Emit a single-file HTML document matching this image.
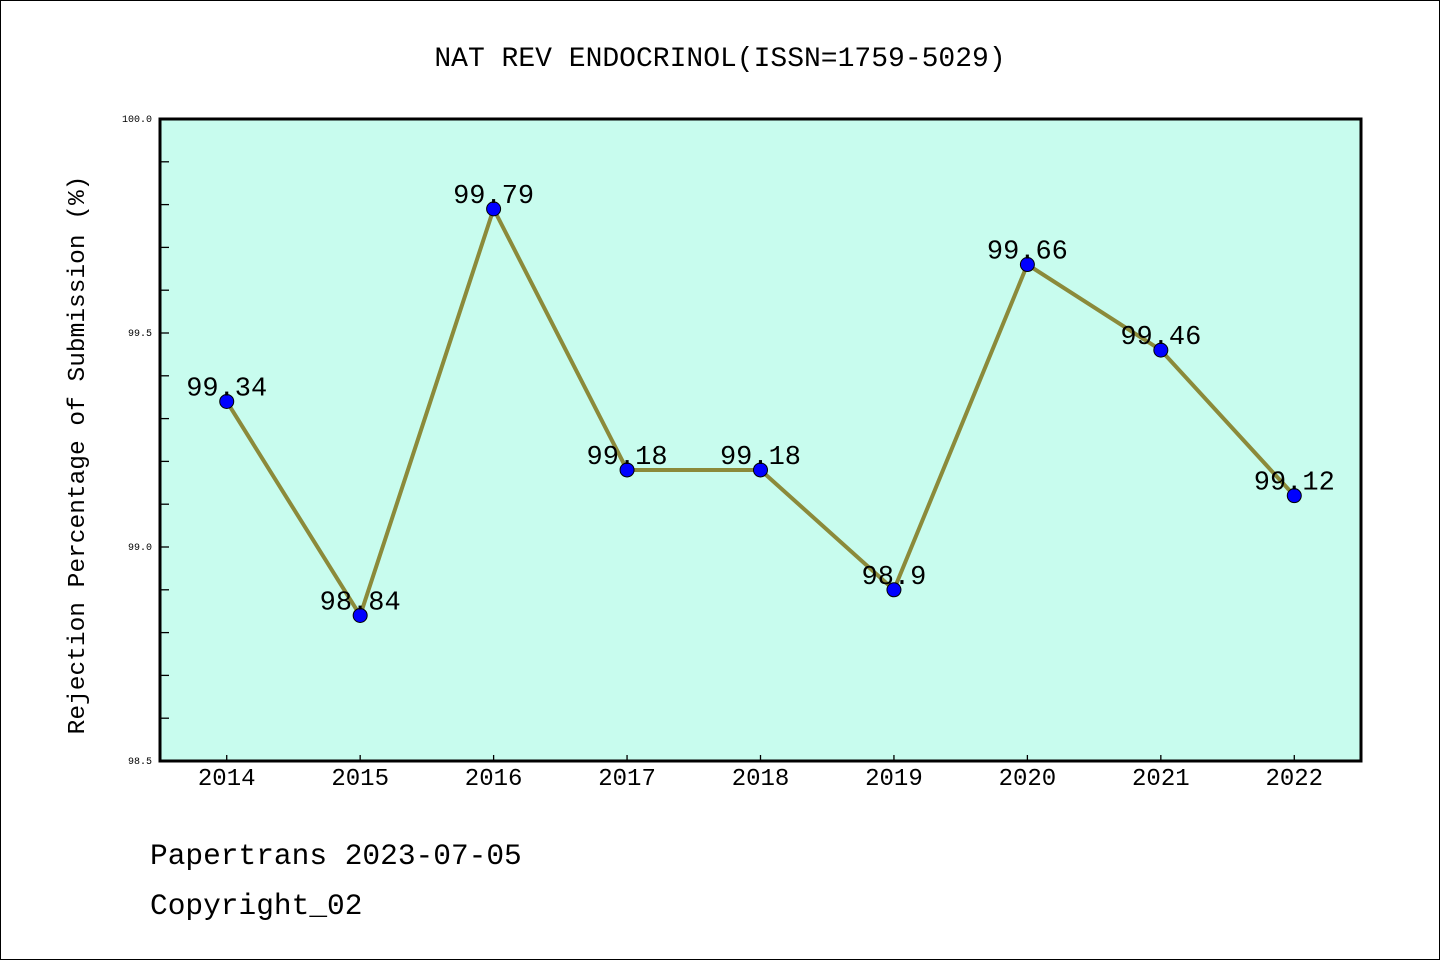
<!DOCTYPE html>
<html><head><meta charset="utf-8"><style>
html,body{margin:0;padding:0;background:#fff;}
svg{display:block;}
text{font-family:"Liberation Mono","WenQuanYi Zen Hei",monospace;}
</style></head><body>
<svg id="chart" width="1440" height="960" xmlns="http://www.w3.org/2000/svg">
<rect x="0.5" y="0.5" width="1439" height="959" fill="#fff" stroke="#000"/>
<text x="720" y="66" font-size="28" text-anchor="middle">NAT REV ENDOCRINOL(ISSN=1759-5029)</text>
<rect x="160" y="119" width="1201" height="642" fill="#c8fcee"/>
<g id="axes"></g>
<g id="series"></g>
<rect x="160" y="119" width="1201" height="642" fill="none" stroke="#000" stroke-width="3"/>
<text transform="translate(84,455) rotate(-90)" font-size="24.5" text-anchor="middle">Rejection Percentage of Submission (%)</text>
<text x="150" y="864" font-size="29.5">Papertrans 2023-07-05</text>
<text x="150" y="914" font-size="29.5">Copyright_02</text>
</svg>
<script>
const years=["2014","2015","2016","2017","2018","2019","2020","2021","2022"];
const values=[99.34,98.84,99.79,99.18,99.18,98.9,99.66,99.46,99.12];
const valueLabels=["99.34","98.84","99.79","99.18","99.18","98.9","99.66","99.46","99.12"];
const yTicks=[98.5,99.0,99.5,100.0];
const yTickLabels=["98.5","99.0","99.5","100.0"];
const yMin=98.5,yMax=100.0;
const L=160,R=1361,T=119,B=761;
const NS="http://www.w3.org/2000/svg";
function xs(i){return L+(i+0.5)*(R-L)/years.length;}
function ys(v){return B-(v-yMin)/(yMax-yMin)*(B-T);}
const ax=document.getElementById('axes'),se=document.getElementById('series');
function mk(tag,attrs,parent,txt){const e=document.createElementNS(NS,tag);for(const k in attrs)e.setAttribute(k,attrs[k]);if(txt!==undefined)e.textContent=txt;parent.appendChild(e);return e;}
for(let v=yMin+0.1;v<yMax-0.05;v+=0.1){
  const t=mk('line',{x1:L,x2:L+9,y1:ys(v),y2:ys(v),stroke:'#000','stroke-width':1.3},ax);
  
  
}
yTicks.forEach((v,i)=>{
  const t=mk('text',{x:L-8,y:ys(v)+3,'font-size':10,'text-anchor':'end','font-family':'Liberation Sans, sans-serif'},ax,yTickLabels[i]);
  
  
});
years.forEach((y,i)=>{
  const t=mk('line',{x1:xs(i),x2:xs(i),y1:B,y2:B-6,stroke:'#000','stroke-width':1.3},ax);
  
  
  const l=mk('text',{x:xs(i),y:B+24,'font-size':24,'text-anchor':'middle'},ax,y);
  
  
});
const line=mk('polyline',{points:values.map((v,i)=>xs(i)+','+ys(v)).join(' '),fill:'none',stroke:'#8b8a3a','stroke-width':4},se);


values.forEach((v,i)=>{
  const c=mk('circle',{cx:xs(i),cy:ys(v),r:7,fill:'#0000ff',stroke:'#000','stroke-width':1},se);
  
  
  const t=mk('text',{x:xs(i),y:ys(v)-6,'font-size':27,'text-anchor':'middle'},se,valueLabels[i]);
  
  
});
</script>
</body></html>
